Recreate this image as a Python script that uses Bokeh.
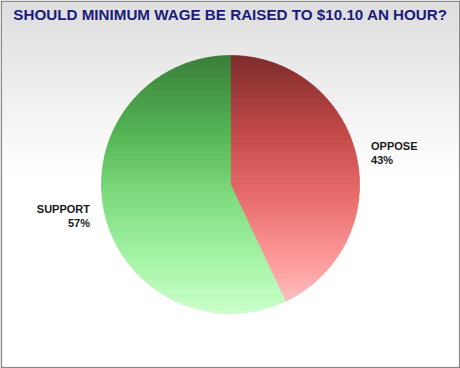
import numpy as np
from bokeh.plotting import figure
from bokeh.models import ColumnDataSource, Label, Range1d
from bokeh.core.properties import value
from bokeh.embed import file_html
from bokeh.resources import INLINE

# ---- data ----
title_text = "SHOULD MINIMUM WAGE BE RAISED TO $10.10 AN HOUR?"
categories = ["OPPOSE", "SUPPORT"]
shares = [43, 57]

# ---- styling ----
W, H = 460, 368
B = 2  # border width
CX, CY, R = 230, 184, 129
gradients = {
    "OPPOSE": [(0.0, "#7b2b2b"), (0.30, "#c44a4a"), (0.55, "#e86c6c"), (0.80, "#ff9c9c"), (1.0, "#ffcaca")],
    "SUPPORT": [(0.0, "#3a7e3a"), (0.30, "#54b454"), (0.55, "#7fdc7f"), (0.80, "#a8f5a8"), (1.0, "#ccffcc")],
}


def hex2rgb(h):
    h = h.lstrip("#")
    return np.array([int(h[i:i + 2], 16) for i in (0, 2, 4)], dtype=float)


def grad_color(stops, t):
    t = min(max(t, 0.0), 1.0)
    for (t0, c0), (t1, c1) in zip(stops[:-1], stops[1:]):
        if t <= t1:
            f = (t - t0) / (t1 - t0) if t1 > t0 else 0
            c = hex2rgb(c0) * (1 - f) + hex2rgb(c1) * f
            return "#%02x%02x%02x" % tuple(int(round(v)) for v in c)
    return stops[-1][1]


def clip_half(poly, y0, keep_above):
    out = []
    n = len(poly)
    for i in range(n):
        p, q = poly[i], poly[(i + 1) % n]
        pin = (p[1] >= y0) if keep_above else (p[1] <= y0)
        qin = (q[1] >= y0) if keep_above else (q[1] <= y0)
        if pin:
            out.append(p)
        if pin != qin:
            f = (y0 - p[1]) / (q[1] - p[1])
            out.append((p[0] + f * (q[0] - p[0]), y0))
    return out


p = figure(width=W, height=H, x_range=Range1d(B, W - B), y_range=Range1d(B, H - B),
           output_backend="svg", toolbar_location=None,
           min_border_left=B, min_border_right=B, min_border_top=B, min_border_bottom=B)
p.axis.visible = False
p.grid.visible = False
p.outline_line_color = None
p.background_fill_color = "white"
p.border_fill_color = "#8a8a8a"

# background gradient (light grey at top to white)
nb = 46
step = H / nb
bg_top, bg_bot, bg_col = [], [], []
for i in range(nb):
    y1 = H - i * step
    y0 = y1 - step
    ys = i * step + step / 2
    t = min(1.0, ys / 175.0)
    g = 221 + (255 - 221) * t
    bg_top.append(y1)
    bg_bot.append(y0)
    bg_col.append("#%02x%02x%02x" % (int(round(g)), int(round(g)), int(round(g))))
p.quad(left=0, right=W, top=bg_top, bottom=bg_bot, fill_color=bg_col, line_color=bg_col, line_width=0.6)

# pie angles: start at 12 o'clock, clockwise
total = sum(shares)
ends, starts = [], []
cur = 90.0
for s in shares:
    a_end = cur
    a_start = cur - s / total * 360.0
    starts.append(np.deg2rad(a_start))
    ends.append(np.deg2rad(a_end))
    cur = a_start

src = ColumnDataSource(dict(cat=categories, start=starts, end=ends,
                            color=[gradients[c][2][1] for c in categories]))
p.wedge(x=CX, y=CY, radius=R, start_angle="start", end_angle="end", fill_color="color",
        line_color=None, source=src)

# gradient bands over each wedge
nbands = 64
ytop, ybot = CY + R, CY - R
for cat, a0, a1 in zip(categories, starts, ends):
    angs = np.linspace(a0, a1, 240)
    poly = [(CX, CY)] + [(CX + R * np.cos(a), CY + R * np.sin(a)) for a in angs]
    xs, ys, cols = [], [], []
    for b in range(nbands):
        hi = ytop - b * (2 * R) / nbands
        lo = hi - (2 * R) / nbands
        piece = clip_half(poly, lo, True)
        if len(piece) < 3:
            continue
        piece = clip_half(piece, hi, False)
        if len(piece) < 3:
            continue
        xs.append([pt[0] for pt in piece])
        ys.append([pt[1] for pt in piece])
        cols.append(grad_color(gradients[cat], (b + 0.5) / nbands))
    p.patches(xs=xs, ys=ys, fill_color=cols, line_color=cols, line_width=0.7)

# slice labels
lr = 144
lx, ly, ltxt, lalign = [], [], [], []
for cat, s, a0, a1 in zip(categories, shares, starts, ends):
    mid = (a0 + a1) / 2
    lx.append(CX + lr * np.cos(mid))
    ly.append(CY + lr * np.sin(mid))
    ltxt.append(f"{cat}\n{round(s / total * 100)}%")
    lalign.append("left" if np.cos(mid) >= 0 else "right")
lsrc = ColumnDataSource(dict(x=lx, y=ly, text=ltxt, align=lalign))
p.text(x="x", y="y", text="text", text_align="align", text_baseline="middle",
       text_font=value("Liberation Sans"), text_font_style="bold", text_font_size="11px",
       text_color="#1a1a1a", text_line_height=1.2, source=lsrc)

p.add_layout(Label(x=W / 2, y=H - 14, text=title_text, text_align="center", text_baseline="middle",
                   text_font="Liberation Sans", text_font_style="bold", text_font_size="15.2px",
                   text_color="#1b1b7c"))

open("out.html", "w").write(file_html(p, INLINE))
